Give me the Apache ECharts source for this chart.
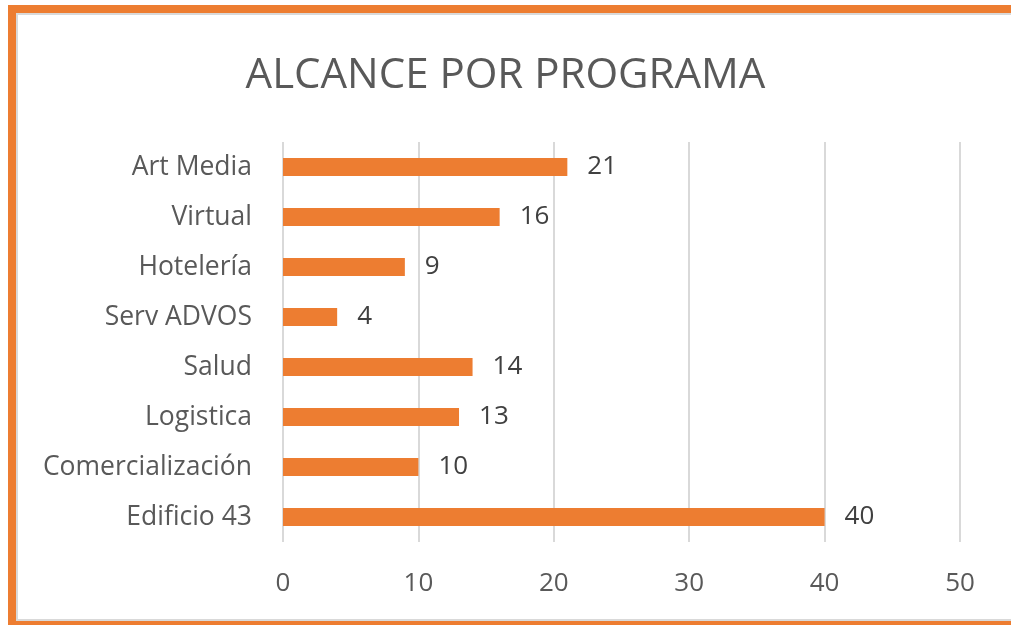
<!DOCTYPE html>
<html>
<head>
<meta charset="utf-8">
<script src="https://cdn.jsdelivr.net/npm/echarts@6/dist/echarts.min.js"></script>
<style>
    html, body { margin: 0; padding: 0; background: #fff; overflow: hidden; }
    #marco {
        position: absolute; left: 8px; top: 5px; width: 1100px; height: 608px;
        border: 8px solid #ed7d31;
        box-shadow: inset 0 0 0 2px #d9d9d9;
    }
    #grafico { position: absolute; left: 0; top: 0; width: 1011px; height: 625px; }
</style>
</head>
<body>
<div id="marco"></div>
<div id="grafico"></div>
<script>
    // datos del grafico
    var programas = ['Art Media', 'Virtual', 'Hotelería', 'Serv ADVOS', 'Salud', 'Logistica', 'Comercialización', 'Edificio 43'];
    var alcance = [21, 16, 9, 4, 14, 13, 10, 40];
    var ticksX = [0, 10, 20, 30, 40, 50];

    var fuente = '"Open Sans", sans-serif';
    var grafico = echarts.init(document.getElementById('grafico'));
    var opcion = {
        backgroundColor: 'transparent',
        animation: false,
        title: {
            text: 'ALCANCE POR PROGRAMA',
            left: 'center',
            top: 50,
            textStyle: { color: '#595959', fontSize: 42, fontWeight: 'normal', fontFamily: fuente }
        },
        grid: { left: 283, right: 51, top: 142, bottom: 83 },
        xAxis: {
            type: 'value',
            min: ticksX[0],
            max: ticksX[ticksX.length - 1],
            interval: 10,
            axisLine: { show: false },
            axisTick: { show: false },
            splitLine: { lineStyle: { color: '#d9d9d9', width: 2 } },
            axisLabel: { color: '#595959', fontSize: 26, margin: 29, fontFamily: fuente }
        },
        yAxis: {
            type: 'category',
            inverse: true,
            data: programas,
            axisLine: { show: false },
            axisTick: { show: false },
            axisLabel: { color: '#595959', fontSize: 26.5, margin: 31, fontFamily: fuente }
        },
        series: [{
            type: 'bar',
            data: alcance,
            barWidth: 18,
            itemStyle: { color: '#ed7d31' },
            label: {
                show: true,
                position: 'right',
                distance: 20,
                color: '#404040',
                fontSize: 26,
                fontFamily: fuente
            }
        }]
    };
    grafico.setOption(opcion);
</script>
</body>
</html>
